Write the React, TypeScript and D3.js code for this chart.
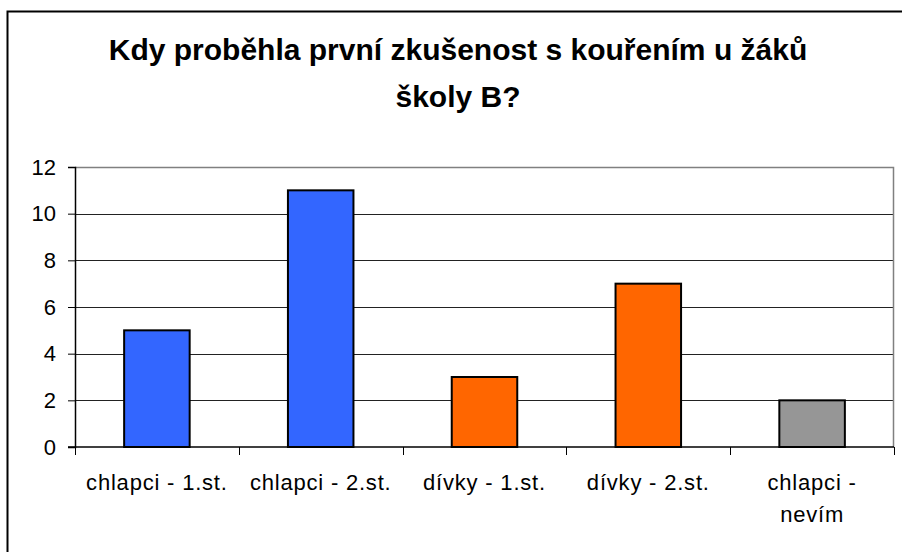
import React, { useEffect, useRef } from "react";
import * as d3 from "d3";

// values
const categories = ["chlapci - 1.st.", "chlapci - 2.st.", "dívky - 1.st.", "dívky - 2.st.", "chlapci - nevím"];
const labelLines = [["chlapci - 1.st."], ["chlapci - 2.st."], ["dívky - 1.st."], ["dívky - 2.st."], ["chlapci -", "nevím"]];
const values = [5, 11, 3, 7, 2];
const barColors = ["#3366ff", "#3366ff", "#ff6600", "#ff6600", "#969696"];
const yTicks = [0, 2, 4, 6, 8, 10, 12];
const titleLines = ["Kdy proběhla první zkušenost s kouřením u žáků", "školy B?"];

const W = 902;
const H = 552;

function App() {
    const ref = useRef<SVGSVGElement>(null);

    useEffect(() => {
        const svg = d3.select(ref.current);
        svg.selectAll("*").remove();

        const margin = { top: 167, right: 8, bottom: 105, left: 75 };
        const width = W - margin.left - margin.right;
        const height = H - margin.top - margin.bottom;
        const font = "'Liberation Sans', Arial, sans-serif";

        svg.append("rect").attr("width", W).attr("height", H).attr("fill", "#fff");

        // outer chart border (only top and left fall inside the picture)
        svg.append("rect")
            .attr("x", 7.5).attr("y", 11.5)
            .attr("width", W + 10).attr("height", H + 10)
            .attr("fill", "none").attr("stroke", "#000").attr("stroke-width", 2);

        // title
        svg.append("text")
            .attr("text-anchor", "middle")
            .attr("font-family", font).attr("font-weight", "bold").attr("font-size", 30)
            .selectAll("tspan").data(titleLines).join("tspan")
            .attr("x", 458)
            .attr("y", (d, i) => 60 + i * 47)
            .text(d => d);

        const g = svg.append("g").attr("transform", "translate(" + margin.left + "," + margin.top + ")");

        const x = d3.scaleBand().domain(categories).range([0, width]).paddingInner(0.6).paddingOuter(0.3);
        const y = d3.scaleLinear().domain([0, 12]).range([height, 0]);

        // gridlines
        g.selectAll(".grid").data(yTicks.filter(t => t > 0 && t < 12)).join("line")
            .attr("x1", 0).attr("x2", width)
            .attr("y1", d => Math.round(y(d)) + 0.5).attr("y2", d => Math.round(y(d)) + 0.5)
            .attr("stroke", "#222").attr("stroke-width", 1);

        // plot area border top/right
        g.append("path")
            .attr("d", "M0," + (y(12) + 0.5) + "H" + (width - 0.5) + "V" + height)
            .attr("fill", "none").attr("stroke", "#808080").attr("stroke-width", 1.5);

        // bars
        g.selectAll(".bar").data(values).join("rect")
            .attr("x", (d, i) => x(categories[i])!)
            .attr("y", d => y(d))
            .attr("width", x.bandwidth())
            .attr("height", d => height - y(d))
            .attr("fill", (d, i) => barColors[i])
            .attr("stroke", "#000").attr("stroke-width", 2);

        // y axis
        const yAxis = g.append("g")
            .call(d3.axisLeft(y).tickValues(yTicks).tickSize(7).tickPadding(12).tickFormat(d3.format("d")));
        yAxis.select(".domain").attr("stroke", "#000").attr("stroke-width", 1.5);
        yAxis.selectAll("line").attr("stroke", "#000");
        yAxis.selectAll("text").attr("font-family", font).attr("font-size", 22).attr("fill", "#000");

        // x axis: ticks at category boundaries
        const step = width / categories.length;
        const xAxis = g.append("g").attr("transform", "translate(0," + height + ")");
        xAxis.append("line").attr("x1", -7).attr("x2", width).attr("stroke", "#000").attr("stroke-width", 1.5);
        xAxis.selectAll(".tick").data(d3.range(categories.length + 1)).join("line")
            .attr("x1", d => Math.round(d * step) + 0.5).attr("x2", d => Math.round(d * step) + 0.5)
            .attr("y1", 0).attr("y2", 8)
            .attr("stroke", "#000");

        xAxis.selectAll(".lbl").data(labelLines).join("text")
            .attr("text-anchor", "middle")
            .attr("font-family", font).attr("font-size", 22).attr("letter-spacing", 0.8).attr("fill", "#000")
            .each(function (lines, i) {
                d3.select(this).selectAll("tspan").data(lines).join("tspan")
                    .attr("x", x(categories[i])! + x.bandwidth() / 2)
                    .attr("y", (d, j) => 43 + j * 32)
                    .text(d => d);
            });
    }, []);

    return (
        <svg ref={ref} width={W} height={H} style={{ position: "absolute", left: 0, top: 0 }} />
    );
}

export default App;
